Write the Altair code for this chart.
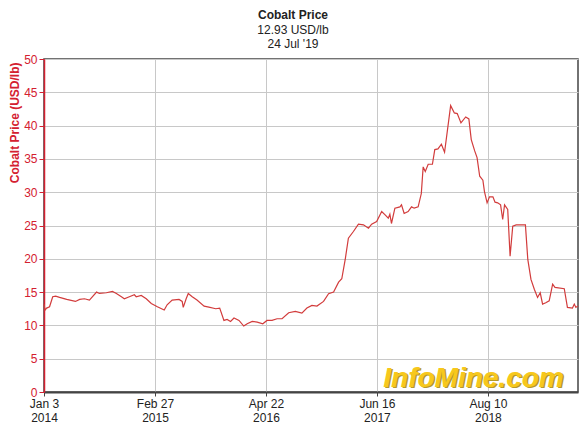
import altair as alt
import pandas as pd

dates = [
    "2014-01-03", "2014-01-07", "2014-01-13", "2014-01-24", "2014-02-05", "2014-02-16",
    "2014-03-03", "2014-03-30", "2014-05-02", "2014-05-18", "2014-06-05", "2014-06-24",
    "2014-07-21", "2014-08-01", "2014-08-27", "2014-09-19", "2014-10-04", "2014-10-23",
    "2014-11-03", "2014-11-22", "2014-12-11", "2014-12-18", "2015-01-06", "2015-01-25",
    "2015-02-13", "2015-03-08", "2015-04-03", "2015-04-14", "2015-05-03", "2015-05-29",
    "2015-06-10", "2015-06-14", "2015-06-25", "2015-07-03", "2015-07-18", "2015-08-05",
    "2015-09-01", "2015-09-19", "2015-10-15", "2015-10-30", "2015-11-15", "2015-11-27",
    "2015-12-10", "2015-12-23", "2016-01-11", "2016-01-29", "2016-02-11", "2016-03-01",
    "2016-03-20", "2016-04-10", "2016-04-26", "2016-05-15", "2016-06-03", "2016-06-22",
    "2016-07-17", "2016-08-11", "2016-09-05", "2016-09-24", "2016-10-13", "2016-11-01",
    "2016-11-26", "2016-12-15", "2017-01-03", "2017-01-22", "2017-02-03", "2017-02-16",
    "2017-02-28", "2017-03-19", "2017-04-07", "2017-04-26", "2017-05-15", "2017-05-27",
    "2017-06-15", "2017-07-04", "2017-07-17", "2017-07-29", "2017-08-04", "2017-08-10",
    "2017-08-23", "2017-09-11", "2017-09-17", "2017-09-27", "2017-10-12", "2017-10-25",
    "2017-11-04", "2017-11-19", "2017-12-01", "2017-12-08", "2017-12-16", "2017-12-27",
    "2018-01-12", "2018-01-21", "2018-02-02", "2018-02-15", "2018-02-27", "2018-03-22",
    "2018-04-05", "2018-04-16", "2018-04-30", "2018-05-18", "2018-05-30", "2018-06-08",
    "2018-06-21", "2018-06-30", "2018-07-10", "2018-07-22", "2018-07-28", "2018-08-07",
    "2018-08-16", "2018-08-29", "2018-09-06", "2018-09-16", "2018-09-27", "2018-10-05",
    "2018-10-12", "2018-10-24", "2018-11-02", "2018-11-12", "2018-11-25", "2018-12-30",
    "2019-01-08", "2019-01-20", "2019-02-02", "2019-02-14", "2019-02-24", "2019-03-05",
    "2019-03-17", "2019-03-30", "2019-04-12", "2019-04-21", "2019-05-26", "2019-06-07",
    "2019-06-26", "2019-07-03", "2019-07-09", "2019-07-17",
]
prices = [
    13.2, 12.3, 12.6, 12.8, 14.3, 14.4,
    14.2, 13.9, 13.6, 13.9, 14.0, 13.8,
    15.0, 14.8, 14.9, 15.1, 14.8, 14.3,
    14.0, 14.3, 14.6, 14.3, 14.5, 14.0,
    13.3, 12.8, 12.3, 13.1, 13.8, 13.9,
    13.6, 12.7, 14.0, 14.8, 14.3, 13.8,
    12.9, 12.75, 12.5, 12.6, 10.75, 10.9,
    10.6, 11.1, 10.75, 9.9, 10.25, 10.6,
    10.5, 10.25, 10.75, 10.75, 11.0, 11.0,
    11.9, 12.1, 11.85, 12.6, 13.0, 12.9,
    13.6, 14.75, 15.0, 16.5, 17.0, 19.9,
    23.1, 24.1, 25.2, 25.1, 24.6, 25.2,
    25.6, 27.1, 26.6, 26.1, 26.7, 25.3,
    27.6, 27.8, 28.1, 26.8, 27.1, 27.8,
    27.6, 27.8, 29.8, 33.8, 33.1, 34.2,
    34.2, 36.4, 36.5, 37.2, 36.0, 43.0,
    41.9, 41.8, 40.4, 41.3, 41.0, 37.9,
    36.2, 35.2, 32.4, 31.8, 30.1, 28.4,
    29.3, 29.3, 28.5, 28.4, 28.1, 25.9,
    28.1, 27.4, 20.4, 24.9, 25.1, 25.1,
    19.9, 16.9, 15.4, 14.2, 14.9, 13.2,
    13.4, 13.7, 16.2, 15.7, 15.5, 12.7,
    12.6, 13.2, 12.7, 12.93,
]
tick_dates = ["2014-01-03", "2015-02-27", "2016-04-22", "2017-06-16", "2018-08-10"]
y_ticks = [0, 5, 10, 15, 20, 25, 30, 35, 40, 45, 50]
title_text = "Cobalt Price"
subtitle_lines = ["12.93 USD/lb", "24 Jul '19"]
watermark = "InfoMine.com"

df = pd.DataFrame({"date": dates, "price": prices})

RED = "#d42030"
FONT = "Liberation Sans"


def dt(s):
    y, m, d = (int(p) for p in s.split("-"))
    return alt.DateTime(year=y, month=m, date=d, utc=True)


x_enc = alt.X(
    "date:T",
    scale=alt.Scale(type="utc", domain=[dt("2014-01-03"), dt("2019-07-17")]),
    axis=alt.Axis(
        values=[dt(s) for s in tick_dates],
        labelExpr="[utcFormat(datum.value, '%b %-d'), utcFormat(datum.value, '%Y')]",
        title=None,
        grid=True,
        gridColor="#c8c8c8",
        domainColor="#444444",
        domainWidth=2,
        tickColor="#444444",
        tickSize=4,
        labelColor="#222222",
        labelFont=FONT,
        labelFontSize=12,
        labelLineHeight=14,
        labelPadding=2,
        labelFlush=False,
        labelOverlap=False,
    ),
)
y_enc = alt.Y(
    "price:Q",
    scale=alt.Scale(domain=[0, 50], nice=False),
    axis=alt.Axis(
        values=y_ticks,
        title="Cobalt Price (USD/lb)",
        titleColor=RED,
        titleFont=FONT,
        titleFontSize=12,
        titleFontWeight="bold",
        titleAngle=270,
        titleAlign="right",
        titleBaseline="middle",
        titleX=-30,
        titleY=3,
        grid=True,
        gridColor="#c8c8c8",
        domainColor=RED,
        domainWidth=1.5,
        tickColor=RED,
        tickSize=5,
        labelColor=RED,
        labelFont=FONT,
        labelFontSize=12,
        labelPadding=2,
    ),
)

line = alt.Chart(df).mark_line(color="#d23c3c", strokeWidth=1.2).encode(x=x_enc, y=y_enc)


def text_layer(txt, x, y, **kw):
    return alt.Chart(pd.DataFrame({"t": [txt]})).mark_text(
        font=FONT, align="center", baseline="middle", **kw
    ).encode(text="t:N", x=alt.value(x), y=alt.value(y))


title_layers = [
    text_layer(title_text, 249, -44, fontSize=12, fontWeight="bold", color="#222222"),
    text_layer(subtitle_lines[0], 249, -29.5, fontSize=12, color="#222222"),
    text_layer(subtitle_lines[1], 249, -15, fontSize=12, color="#222222"),
]

shadow = alt.Chart(pd.DataFrame({"t": [watermark]})).mark_text(
    font=FONT, fontSize=28, fontWeight="bold", fontStyle="italic",
    color="#b59a2a", align="center", baseline="alphabetic",
).encode(text="t:N", x=alt.value(431), y=alt.value(329))
mark = alt.Chart(pd.DataFrame({"t": [watermark]})).mark_text(
    font=FONT, fontSize=28, fontWeight="bold", fontStyle="italic",
    color="#f7c81c", align="center", baseline="alphabetic",
).encode(text="t:N", x=alt.value(429.5), y=alt.value(327.5))

chart = (
    alt.layer(line, shadow, mark, *title_layers)
    .properties(
        width=534,
        height=333,
        padding={"left": 36, "top": 51, "right": 1, "bottom": 33},
        autosize=alt.AutoSizeParams(type="none"),
    )
    .configure_view(stroke="#444444", strokeWidth=1.5)
)

chart.save("out.html", embed_options={"renderer": "svg", "actions": False})
